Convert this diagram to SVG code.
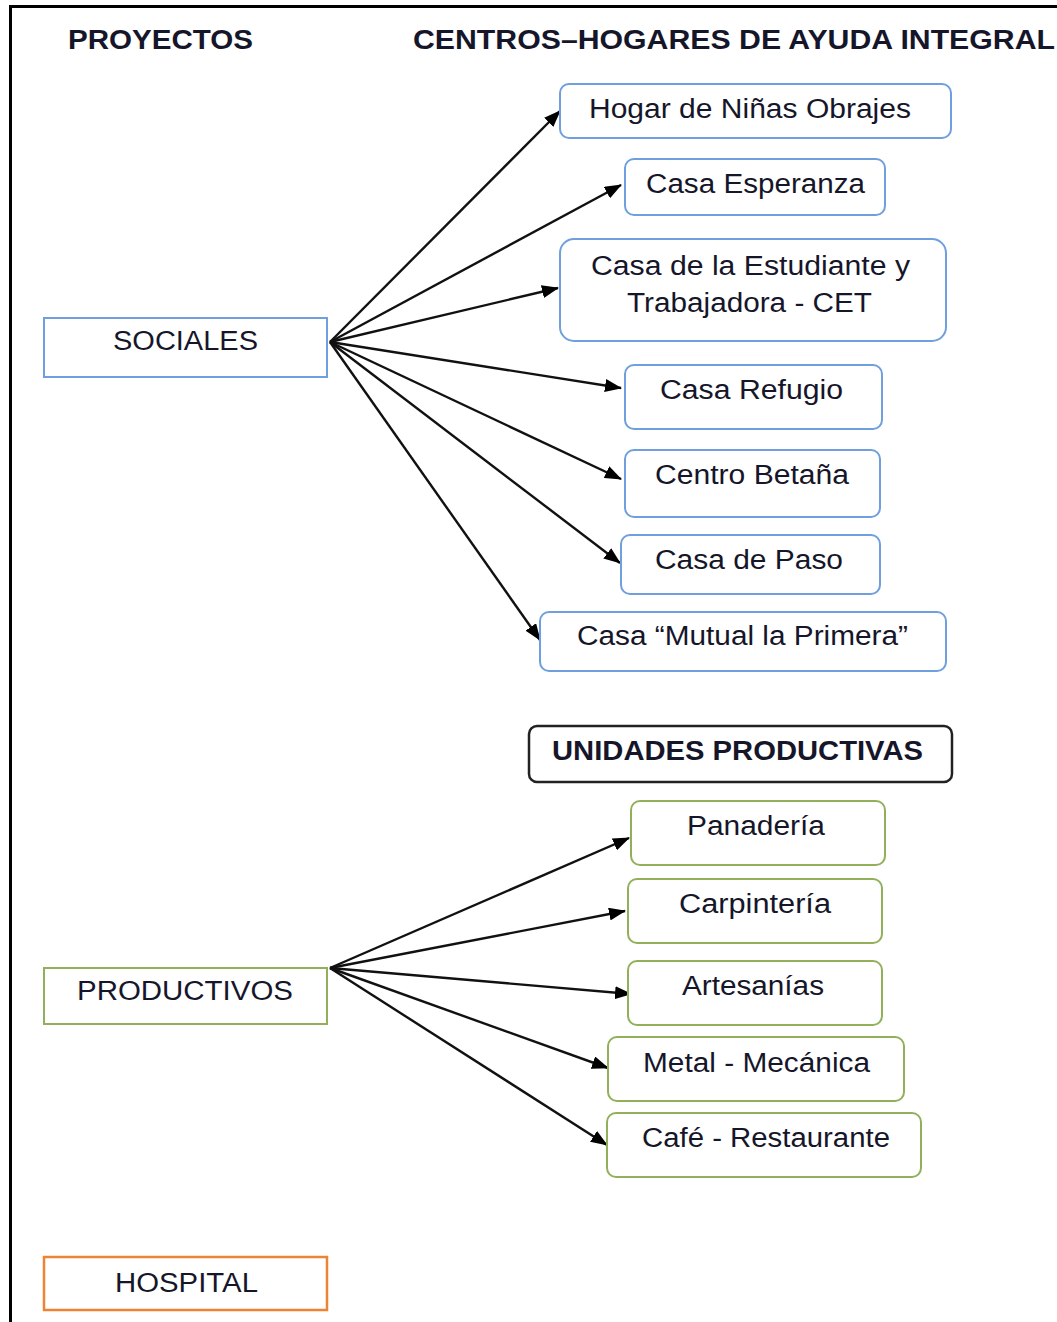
<svg xmlns="http://www.w3.org/2000/svg" width="1057" height="1322" viewBox="0 0 1057 1322">
<style>
text{font-family:"Liberation Sans",Arial,sans-serif;font-size:27px;fill:#16162a;text-anchor:start}
.h{font-weight:bold}
.bl{fill:#fff;stroke:#6f9fdc;stroke-width:2}
.gr{fill:#fff;stroke:#92b05a;stroke-width:2}
.or{fill:#fff;stroke:#ee8433;stroke-width:2.5}
.bk{fill:#fff;stroke:#222;stroke-width:2.5}
.c line{stroke:#111;stroke-width:2.4;marker-end:url(#ah)}
</style>
<defs>
<marker id="ah" markerWidth="17" markerHeight="13" refX="16" refY="6.5" orient="auto" markerUnits="userSpaceOnUse">
<path d="M0,0 L17,6.5 L0,13 Z" fill="#000"/>
</marker>
</defs>
<rect width="1057" height="1322" fill="#fff"/>
<g id="frame">
<line x1="10.5" y1="5" x2="10.5" y2="1322" stroke="#000" stroke-width="3"/>
<line x1="9" y1="6.5" x2="1057" y2="6.5" stroke="#000" stroke-width="3"/>
</g>
<g id="headers">
<text class="h" x="68" y="49" textLength="185" lengthAdjust="spacingAndGlyphs">PROYECTOS</text>
<text class="h" x="413" y="49" textLength="642" lengthAdjust="spacingAndGlyphs">CENTROS–HOGARES DE AYUDA INTEGRAL</text>
</g>
<g class="c" id="connectors">
<line x1="330" y1="342" x2="560" y2="111"/>
<line x1="330" y1="342" x2="621" y2="185"/>
<line x1="330" y1="342" x2="558" y2="288"/>
<line x1="330" y1="342" x2="621" y2="388"/>
<line x1="330" y1="342" x2="621" y2="479"/>
<line x1="330" y1="342" x2="620" y2="563"/>
<line x1="330" y1="342" x2="540" y2="640"/>
<line x1="330" y1="968" x2="629" y2="838"/>
<line x1="330" y1="968" x2="625" y2="911"/>
<line x1="330" y1="968" x2="631" y2="994"/>
<line x1="330" y1="968" x2="608" y2="1068"/>
<line x1="330" y1="968" x2="607" y2="1145"/>
</g>
<g id="sociales"><rect class="bl" x="44" y="318" width="283" height="59"/><text x="113" y="350" textLength="145" lengthAdjust="spacingAndGlyphs">SOCIALES</text></g>
<g id="productivos"><rect class="gr" x="44" y="968" width="283" height="56"/><text x="77" y="1000" textLength="216" lengthAdjust="spacingAndGlyphs">PRODUCTIVOS</text></g>
<g id="hospital"><rect class="or" x="44" y="1257" width="283" height="53"/><text x="115" y="1292" textLength="143" lengthAdjust="spacingAndGlyphs">HOSPITAL</text></g>
<g id="hogar"><rect class="bl" x="560" y="84" width="391" height="54" rx="9"/><text x="589" y="118" textLength="322" lengthAdjust="spacingAndGlyphs">Hogar de Niñas Obrajes</text></g>
<g id="esperanza"><rect class="bl" x="625" y="159" width="260" height="56" rx="9"/><text x="646" y="193" textLength="219" lengthAdjust="spacingAndGlyphs">Casa Esperanza</text></g>
<g id="cet"><rect class="bl" x="560" y="239" width="386" height="102" rx="14"/><text x="591" y="275" textLength="319" lengthAdjust="spacingAndGlyphs">Casa de la Estudiante y</text><text x="627" y="312" textLength="245" lengthAdjust="spacingAndGlyphs">Trabajadora - CET</text></g>
<g id="refugio"><rect class="bl" x="625" y="365" width="257" height="64" rx="9"/><text x="660" y="399" textLength="183" lengthAdjust="spacingAndGlyphs">Casa Refugio</text></g>
<g id="betana"><rect class="bl" x="625" y="450" width="255" height="67" rx="9"/><text x="655" y="484" textLength="194" lengthAdjust="spacingAndGlyphs">Centro Betaña</text></g>
<g id="paso"><rect class="bl" x="621" y="535" width="259" height="59" rx="9"/><text x="655" y="569" textLength="188" lengthAdjust="spacingAndGlyphs">Casa de Paso</text></g>
<g id="mutual"><rect class="bl" x="540" y="612" width="406" height="59" rx="9"/><text x="577" y="645" textLength="331" lengthAdjust="spacingAndGlyphs">Casa “Mutual la Primera”</text></g>
<g id="unidades"><rect class="bk" x="529" y="726" width="423" height="56" rx="8"/><text class="h" x="552" y="760" textLength="371" lengthAdjust="spacingAndGlyphs">UNIDADES PRODUCTIVAS</text></g>
<g id="panaderia"><rect class="gr" x="631" y="801" width="254" height="64" rx="9"/><text x="687" y="835" textLength="138" lengthAdjust="spacingAndGlyphs">Panadería</text></g>
<g id="carpinteria"><rect class="gr" x="628" y="879" width="254" height="64" rx="9"/><text x="679" y="913" textLength="152" lengthAdjust="spacingAndGlyphs">Carpintería</text></g>
<g id="artesanias"><rect class="gr" x="628" y="961" width="254" height="64" rx="9"/><text x="682" y="995" textLength="142" lengthAdjust="spacingAndGlyphs">Artesanías</text></g>
<g id="metal"><rect class="gr" x="608" y="1037" width="296" height="64" rx="9"/><text x="643" y="1072" textLength="227" lengthAdjust="spacingAndGlyphs">Metal - Mecánica</text></g>
<g id="cafe"><rect class="gr" x="607" y="1113" width="314" height="64" rx="9"/><text x="642" y="1147" textLength="248" lengthAdjust="spacingAndGlyphs">Café - Restaurante</text></g>
</svg>
